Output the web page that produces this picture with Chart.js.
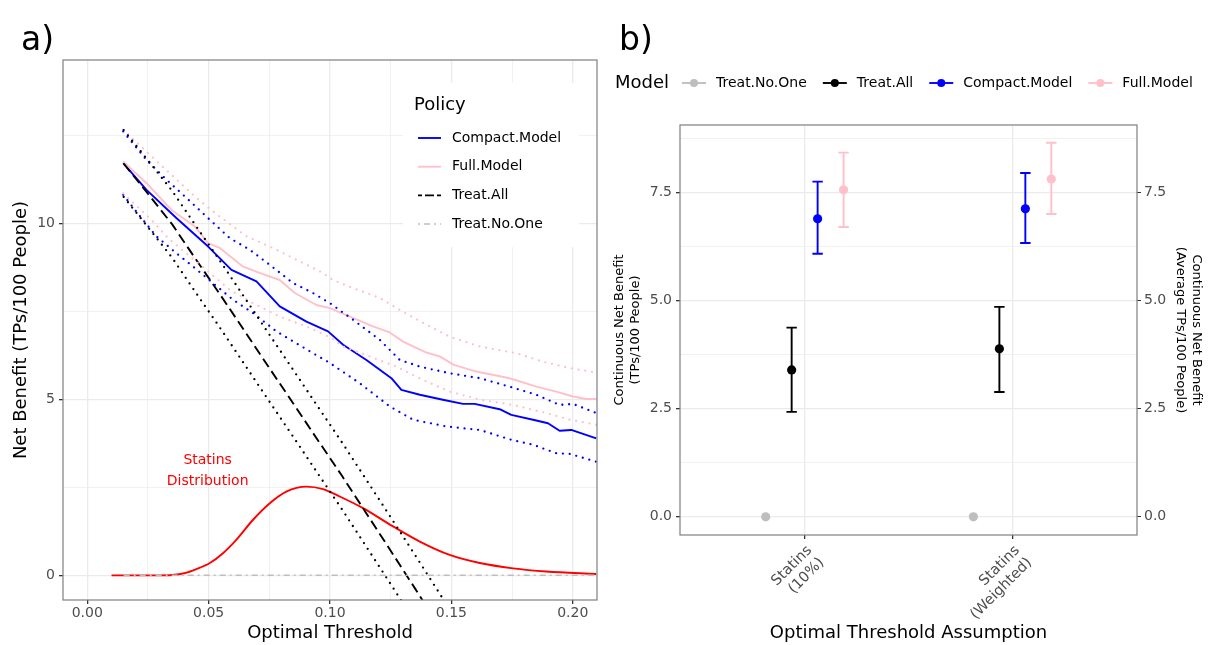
<!DOCTYPE html>
<html><head><meta charset="utf-8">
<script src="https://cdn.jsdelivr.net/npm/chart.js@4.4.1/dist/chart.umd.min.js"></script>
<style>
html,body{margin:0;padding:0;background:#fff;}
#wrap{position:relative;width:1208px;height:645px;overflow:hidden;font-family:'DejaVu Sans',sans-serif;}
canvas{position:absolute;top:0;}
#ca{left:0;} #cb{left:600px;}
.tag{position:absolute;top:22px;font-size:33px;color:#000;line-height:1;}
</style></head><body>
<div id="wrap">
<canvas id="ca" width="600" height="645"></canvas>
<canvas id="cb" width="608" height="645"></canvas>
<div class="tag" style="left:21px">a)</div>
<div class="tag" style="left:619px">b)</div>
</div>
<script>
// ---------------- Panel a data (threshold vs net benefit) ----------------
const compactX = [0.0148,0.0244,0.0367,0.0498,0.0594,0.0697,0.0793,0.0903,0.0992,0.1054,0.115,0.1253,0.1294,0.137,0.1465,0.1548,0.1596,0.1699,0.1747,0.185,0.1898,0.1946,0.1994,0.2097];
const compactY = [11.71,10.95,10.15,9.34,8.68,8.35,7.64,7.21,6.93,6.55,6.12,5.60,5.27,5.13,4.99,4.87,4.87,4.72,4.56,4.40,4.32,4.11,4.13,3.89];
const compactUpX = [0.0148,0.0244,0.0326,0.0409,0.0505,0.0587,0.0669,0.0752,0.0848,0.093,0.1,0.1095,0.1205,0.1287,0.137,0.1493,0.1617,0.174,0.185,0.1946,0.2001,0.2097];
const compactUpY = [12.61,11.80,11.24,10.72,10.10,9.58,9.25,8.82,8.30,8.02,7.73,7.26,6.69,6.12,5.93,5.74,5.60,5.36,5.13,4.84,4.87,4.61];
const compactLoX = [0.0148,0.0223,0.0285,0.0367,0.0436,0.0518,0.06,0.0683,0.0779,0.093,0.1,0.1122,0.1246,0.1342,0.1479,0.1617,0.1747,0.1836,0.1932,0.1987,0.2097];
const compactLoY = [10.81,10.15,9.63,9.15,8.77,8.30,7.83,7.45,6.93,6.31,6.03,5.46,4.80,4.42,4.23,4.13,3.85,3.71,3.47,3.45,3.23];
const fullX = [0.0148,0.0244,0.0347,0.0443,0.0498,0.0546,0.0642,0.071,0.0793,0.0855,0.0944,0.1,0.1081,0.1177,0.1246,0.1301,0.1397,0.1452,0.151,0.1603,0.174,0.185,0.1932,0.2001,0.2056,0.2097];
const fullY = [11.76,11.14,10.38,9.91,9.44,9.30,8.77,8.59,8.39,8.02,7.68,7.59,7.35,7.07,6.90,6.64,6.33,6.22,5.98,5.79,5.60,5.36,5.22,5.08,5.01,5.01];
const fullUpX = [0.0148,0.0257,0.0354,0.045,0.0546,0.0656,0.0765,0.0875,0.0971,0.1012,0.1095,0.1205,0.1287,0.1397,0.1493,0.1617,0.1768,0.1877,0.1987,0.2097];
const fullUpY = [12.66,11.95,11.33,10.72,10.19,9.63,9.30,8.92,8.59,8.39,8.16,7.88,7.54,7.12,6.78,6.50,6.31,6.07,5.89,5.76];
const fullLoX = [0.0148,0.0257,0.0333,0.0505,0.0587,0.0683,0.0793,0.0903,0.1,0.1054,0.1163,0.1273,0.1383,0.1493,0.1617,0.1754,0.1891,0.1987,0.2097];
const fullLoY = [10.85,10.15,9.58,8.59,8.11,7.73,7.35,7.07,6.76,6.50,6.22,5.93,5.55,5.22,4.99,4.84,4.61,4.42,4.28];
const treatAllX = [0.015,0.025,0.035,0.045,0.055,0.065,0.075,0.085,0.095,0.105,0.115,0.125,0.135,0.145,0.16,0.18,0.21];
const treatAllY = [11.7,10.84,9.97,8.95,7.95,6.92,5.89,4.87,3.84,2.82,1.76,0.70,-0.37,-1.45,-3.1,-5.3,-8.6];
const treatAllUpY = [12.65,11.79,10.92,9.90,8.90,7.87,6.84,5.82,4.79,3.77,2.71,1.65,0.58,-0.50,-2.15,-4.35,-7.65];
const treatAllLoY = [10.75,9.89,9.02,8.00,7.00,5.97,4.94,3.92,2.89,1.87,0.81,-0.25,-1.32,-2.40,-4.05,-6.25,-9.55];
const noOneX = [0.015,0.21];
const noOneY = [0,0];
const statinsX = [0.01,0.02,0.03,0.035,0.04,0.045,0.0505,0.0559,0.0614,0.0683,0.0752,0.082,0.0903,0.0971,0.104,0.1136,0.126,0.137,0.1493,0.1617,0.1754,0.1891,0.2097];
const statinsY = [0,0,0,0.01,0.06,0.18,0.35,0.63,1.01,1.58,2.05,2.38,2.52,2.45,2.24,1.91,1.39,0.96,0.58,0.35,0.20,0.11,0.04];
const xTicksA = [0,0.025,0.05,0.075,0.1,0.125,0.15,0.175,0.2];
const yTicksA = [0,2.5,5,7.5,10,12.5];

// ---------------- Panel b data ----------------
const categories = [["Statins","(10%)"],["Statins","(Weighted)"]];
const models = ["Treat.No.One","Treat.All","Compact.Model","Full.Model"];
const noOneEst = [0,0];
const treatAllEst = [3.40,3.89];
const treatAllLo = [2.43,2.89];
const treatAllHi = [4.38,4.86];
const compactEst = [6.90,7.13];
const compactLo = [6.09,6.34];
const compactHi = [7.76,7.96];
const fullEst = [7.57,7.82];
const fullLo = [6.71,7.01];
const fullHi = [8.43,8.66];
const yTicksB = [0,1.25,2.5,3.75,5,6.25,7.5,8.75];

// ---------------- styling ----------------
Chart.defaults.font.family = "'DejaVu Sans', sans-serif";
const GRID = '#EBEBEB', AXT = '#4D4D4D', TICKC = '#333333', BORDER = '#7f7f7f';
const C = {noone:'#BEBEBE', all:'#000000', compact:'#0000FF', full:'#FFC0CB', red:'#FF0000'};
const isMult = (v, m) => Math.abs(v / m - Math.round(v / m)) < 1e-6;
const pts = (xs, ys) => xs.map((x, i) => ({x: x, y: ys[i]}));
const DOT = [0, 6.8];
const LW = 1.9, DW = 2.3;

function lineDS(label, xs, ys, color, width, dash, cap, extra) {
  return Object.assign({
    label: label, data: pts(xs, ys), borderColor: color, borderWidth: width,
    borderDash: dash || [], borderCapStyle: cap || 'butt', borderJoinStyle: 'round',
    pointRadius: 0, fill: false, tension: 0
  }, extra || {});
}

const borderPlugin = {
  id: 'panelBorder',
  afterDraw(chart) {
    const a = chart.chartArea, ctx = chart.ctx;
    ctx.save(); ctx.strokeStyle = BORDER; ctx.lineWidth = 1.2;
    ctx.strokeRect(a.left, a.top, a.right - a.left, a.bottom - a.top);
    ctx.restore();
  }
};

// ---------------- Panel a ----------------
const statinsLabel = {x: 0.0496, y: 3.28, lines: ['Statins', 'Distribution']};
const legendA = [
  {label: 'Compact.Model', color: C.compact, dash: [], width: LW},
  {label: 'Full.Model', color: C.full, dash: [], width: LW},
  {label: 'Treat.All', color: C.all, dash: [4, 3, 9, 3], width: LW},
  {label: 'Treat.No.One', color: C.noone, dash: [2, 4, 6, 4], width: 1.5}
];
const pluginA = {
  id: 'panelA',
  afterDatasetsDraw(chart) {
    const ctx = chart.ctx, xs = chart.scales.x, ys = chart.scales.y;
    ctx.save();
    ctx.fillStyle = C.red; ctx.font = "14px 'DejaVu Sans'";
    ctx.textAlign = 'center'; ctx.textBaseline = 'middle';
    const px = xs.getPixelForValue(statinsLabel.x), py = ys.getPixelForValue(statinsLabel.y);
    statinsLabel.lines.forEach((t, i) => ctx.fillText(t, px, py + i * 21));
    ctx.restore();
  },
  afterDraw(chart) {
    const ctx = chart.ctx;
    ctx.save();
    ctx.fillStyle = '#fff';
    ctx.fillRect(403, 83, 176, 164);
    ctx.fillStyle = '#000'; ctx.textBaseline = 'middle'; ctx.textAlign = 'left';
    ctx.font = "18px 'DejaVu Sans'";
    ctx.fillText('Policy', 414, 105);
    ctx.font = "14px 'DejaVu Sans'";
    legendA.forEach((it, i) => {
      const y = 138 + i * 28.7;
      ctx.strokeStyle = it.color; ctx.lineWidth = it.width; ctx.setLineDash(it.dash);
      ctx.beginPath(); ctx.moveTo(418, y); ctx.lineTo(441, y); ctx.stroke();
      ctx.setLineDash([]);
      ctx.fillStyle = '#000';
      ctx.fillText(it.label, 452, y);
    });
    ctx.restore();
  }
};

new Chart(document.getElementById('ca'), {
  type: 'line',
  data: {
    datasets: [
      lineDS('Treat.No.One', noOneX, noOneY, C.noone, 1.5, [6, 4, 2, 4]),
      lineDS('Treat.All upper', treatAllX, treatAllUpY, C.all, DW, DOT, 'round'),
      lineDS('Treat.All lower', treatAllX, treatAllLoY, C.all, DW, DOT, 'round'),
      lineDS('Full.Model upper', fullUpX, fullUpY, C.full, DW, DOT, 'round'),
      lineDS('Full.Model lower', fullLoX, fullLoY, C.full, DW, DOT, 'round'),
      lineDS('Compact.Model upper', compactUpX, compactUpY, C.compact, DW, DOT, 'round'),
      lineDS('Compact.Model lower', compactLoX, compactLoY, C.compact, DW, DOT, 'round'),
      lineDS('Treat.All', treatAllX, treatAllY, C.all, LW, [10, 5]),
      lineDS('Full.Model', fullX, fullY, C.full, LW),
      lineDS('Compact.Model', compactX, compactY, C.compact, LW),
      lineDS('Statins Distribution', statinsX, statinsY, C.red, LW, [], 'butt', {cubicInterpolationMode: 'monotone'})
    ]
  },
  options: {
    responsive: false, animation: false, events: [],
    layout: {padding: {left: 0, right: 3, top: 60, bottom: 0}},
    plugins: {legend: {display: false}, tooltip: {enabled: false}},
    scales: {
      x: {
        type: 'linear', min: -0.01, max: 0.21,
        afterBuildTicks: s => { s.ticks = xTicksA.map(v => ({value: v})); },
        afterFit: s => { s.height = 45; },
        ticks: {autoSkip: false, maxRotation: 0, color: AXT, font: {size: 14}, padding: 1,
          callback: v => isMult(v, 0.05) ? v.toFixed(2) : ''},
        grid: {color: GRID, lineWidth: c => isMult(c.tick.value, 0.05) ? 1.3 : 0.7,
          tickColor: c => isMult(c.tick.value, 0.05) ? TICKC : 'rgba(0,0,0,0)', tickLength: 4},
        border: {display: false},
        title: {display: true, text: 'Optimal Threshold', color: '#000', font: {size: 18}, padding: {top: 0, bottom: 1}}
      },
      y: {
        type: 'linear', min: -0.7, max: 14.64,
        afterBuildTicks: s => { s.ticks = yTicksA.map(v => ({value: v})); },
        afterFit: s => { s.width = 63; },
        ticks: {autoSkip: false, color: AXT, font: {size: 14}, padding: 4,
          callback: v => isMult(v, 5) ? String(v) : ''},
        grid: {color: GRID, lineWidth: c => isMult(c.tick.value, 5) ? 1.3 : 0.7,
          tickColor: c => isMult(c.tick.value, 5) ? TICKC : 'rgba(0,0,0,0)', tickLength: 4},
        border: {display: false},
        title: {display: true, text: 'Net Benefit (TPs/100 People)', color: '#000', font: {size: 18}, padding: {top: 11, bottom: 0}}
      }
    }
  },
  plugins: [pluginA, borderPlugin]
});

// ---------------- Panel b ----------------
const dodge = [-0.1875, -0.0625, 0.0625, 0.1875];
const seriesB = [
  {name: models[0], color: C.noone, est: noOneEst, lo: null, hi: null},
  {name: models[1], color: C.all, est: treatAllEst, lo: treatAllLo, hi: treatAllHi},
  {name: models[2], color: C.compact, est: compactEst, lo: compactLo, hi: compactHi},
  {name: models[3], color: C.full, est: fullEst, lo: fullLo, hi: fullHi}
];
const errorBarPlugin = {
  id: 'errorBars',
  beforeDatasetsDraw(chart) {
    const ctx = chart.ctx, xs = chart.scales.x, ys = chart.scales.y;
    ctx.save(); ctx.lineWidth = 1.9;
    chart.data.datasets.forEach(ds => {
      if (!ds.errLo) return;
      ctx.strokeStyle = ds.borderColor;
      ds.data.forEach((p, i) => {
        const x = xs.getPixelForValue(p.x);
        const y1 = ys.getPixelForValue(ds.errLo[i]), y2 = ys.getPixelForValue(ds.errHi[i]);
        const hw = 5.2;
        ctx.beginPath();
        ctx.moveTo(x, y1); ctx.lineTo(x, y2);
        ctx.moveTo(x - hw, y1); ctx.lineTo(x + hw, y1);
        ctx.moveTo(x - hw, y2); ctx.lineTo(x + hw, y2);
        ctx.stroke();
      });
    });
    ctx.restore();
  },
  afterDraw(chart) {
    const ctx = chart.ctx;
    ctx.save();
    ctx.textBaseline = 'middle'; ctx.textAlign = 'left'; ctx.fillStyle = '#000';
    ctx.font = "18px 'DejaVu Sans'";
    const ly = 83;
    ctx.fillText('Model', 15, ly);
    ctx.font = "14px 'DejaVu Sans'";
    let sx = 82;
    seriesB.forEach(s => {
      ctx.strokeStyle = s.color; ctx.lineWidth = 1.9;
      ctx.beginPath(); ctx.moveTo(sx, ly); ctx.lineTo(sx + 24, ly); ctx.stroke();
      ctx.fillStyle = s.color;
      ctx.beginPath(); ctx.arc(sx + 12, ly, 4, 0, Math.PI * 2); ctx.fill();
      ctx.fillStyle = '#000';
      ctx.fillText(s.name, sx + 34, ly);
      sx = sx + 34 + ctx.measureText(s.name).width + 16;
    });
    ctx.restore();
  }
};

const yOptsB = {
  type: 'linear', min: -0.42, max: 9.07,
  afterBuildTicks: s => { s.ticks = yTicksB.map(v => ({value: v})); },
  ticks: {autoSkip: false, color: AXT, font: {size: 14}, padding: 3,
    callback: v => isMult(v, 2.5) ? v.toFixed(1) : ''},
  border: {display: false}
};

new Chart(document.getElementById('cb'), {
  type: 'scatter',
  data: {
    datasets: seriesB.map((s, k) => ({
      label: s.name,
      data: s.est.map((v, i) => ({x: i + 1 + dodge[k], y: v})),
      errLo: s.lo, errHi: s.hi,
      borderColor: s.color, backgroundColor: s.color,
      pointRadius: 4.6, pointBorderWidth: 0, showLine: false
    }))
  },
  options: {
    responsive: false, animation: false, events: [],
    layout: {padding: {left: 0, right: 0, top: 125, bottom: 0}},
    plugins: {legend: {display: false}, tooltip: {enabled: false}},
    scales: {
      x: {
        type: 'linear', min: 0.4, max: 2.6,
        afterBuildTicks: s => { s.ticks = categories.map((c, i) => ({value: i + 1})); },
        afterFit: s => { s.height = 110; },
        ticks: {autoSkip: false, minRotation: 45, maxRotation: 45, color: AXT, font: {size: 14.5}, padding: 3, labelOffset: 5,
          callback: v => categories[Math.round(v) - 1] || ''},
        grid: {color: GRID, lineWidth: 1.3, tickColor: TICKC, tickLength: 4},
        border: {display: false},
        title: {display: true, text: 'Optimal Threshold Assumption', color: '#000', font: {size: 18}, padding: {top: 0, bottom: 1}}
      },
      y: Object.assign({}, yOptsB, {
        position: 'left',
        afterFit: s => { s.width = 80; },
        grid: {color: GRID, lineWidth: c => isMult(c.tick.value, 2.5) ? 1.3 : 0.7,
          tickColor: c => isMult(c.tick.value, 2.5) ? TICKC : 'rgba(0,0,0,0)', tickLength: 4},
        ticks: Object.assign({}, yOptsB.ticks, {padding: 4}),
        title: {display: true, text: ['Continuous Net Benefit', '(TPs/100 People)'], color: '#000', font: {size: 13}, padding: {top: 12, bottom: 0}}
      }),
      y2: Object.assign({}, yOptsB, {
        position: 'right',
        afterFit: s => { s.width = 71; },
        grid: {drawOnChartArea: false, color: GRID,
          tickColor: c => isMult(c.tick.value, 2.5) ? TICKC : 'rgba(0,0,0,0)', tickLength: 4},
        title: {display: true, text: ['Continuous Net Benefit', '(Average TPs/100 People)'], color: '#000', font: {size: 13}, padding: {top: 4, bottom: 0}}
      })
    }
  },
  plugins: [errorBarPlugin, borderPlugin]
});
</script>
</body></html>
